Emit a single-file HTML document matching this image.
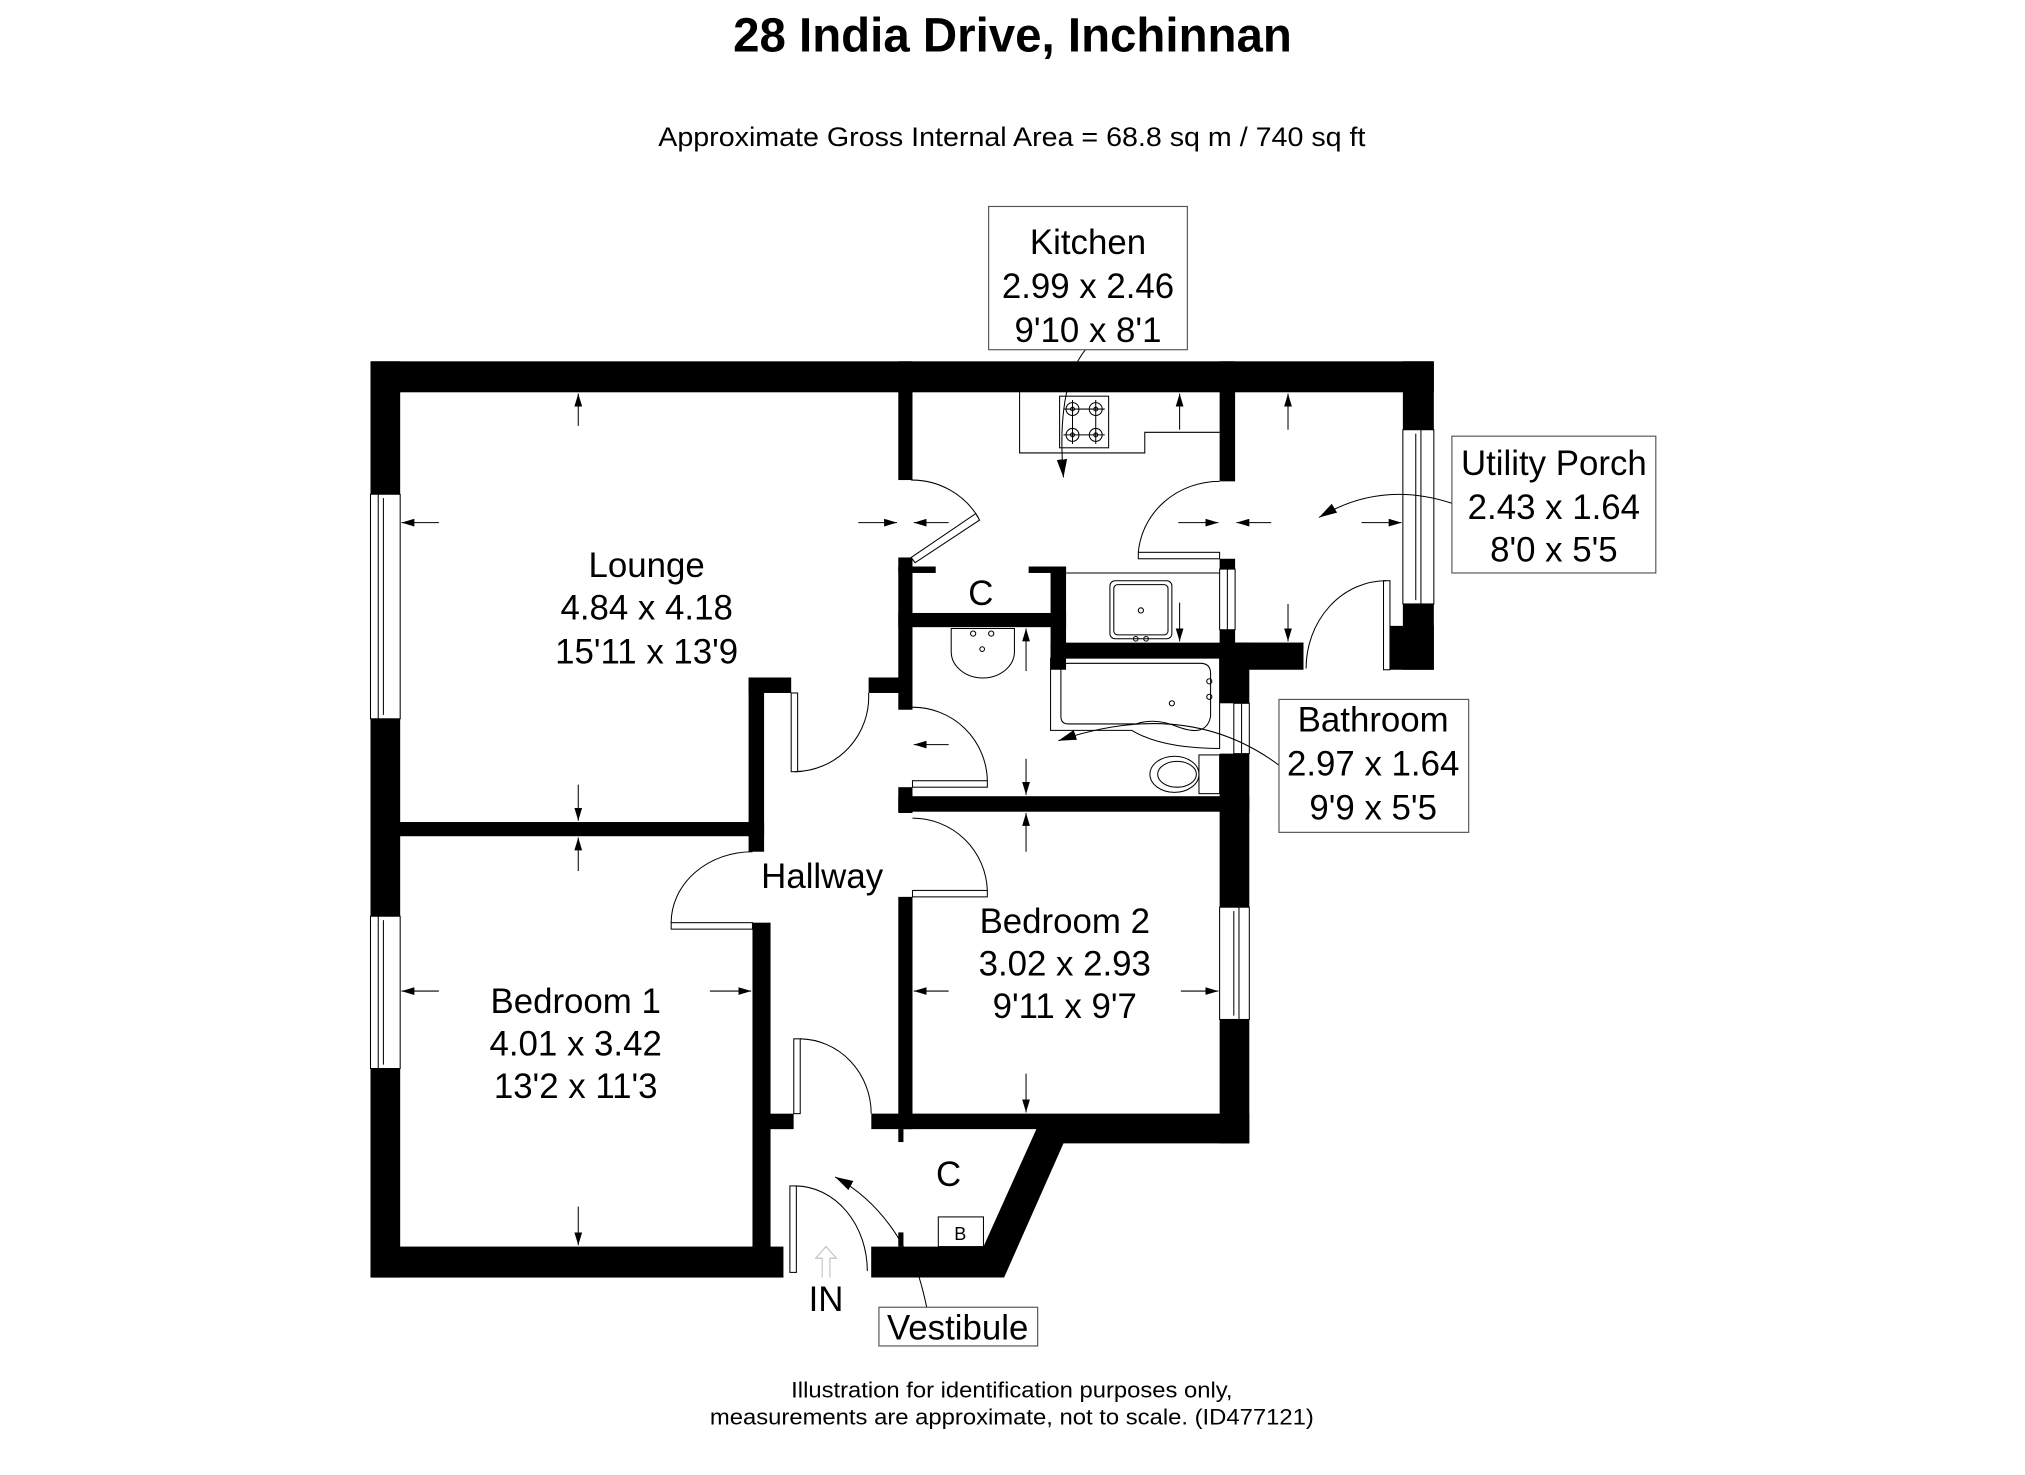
<!DOCTYPE html>
<html><head><meta charset="utf-8"><style>
html,body{margin:0;padding:0;background:#fff;}
svg{display:block;}
text{font-family:"Liberation Sans Narrow","Liberation Sans",sans-serif;fill:#000;}
</style></head><body>
<svg width="2025" height="1475" viewBox="0 0 1569 1143" xmlns="http://www.w3.org/2000/svg">
<defs>
<marker id="ah" viewBox="0 0 10 6" refX="10" refY="3" markerWidth="10" markerHeight="6" markerUnits="userSpaceOnUse" orient="auto"><path d="M0,0 L10,3 L0,6 z" fill="#000"/></marker>
<marker id="ah2" viewBox="0 0 14 8" refX="14" refY="4" markerWidth="14" markerHeight="8" markerUnits="userSpaceOnUse" orient="auto"><path d="M0,0 L14,4 L0,8 z" fill="#000"/></marker>
</defs>
<rect width="1569" height="1143" fill="#fff"/>

<text x="784.5" y="40" font-size="37" font-weight="bold" text-anchor="middle" textLength="433" lengthAdjust="spacingAndGlyphs">28 India Drive, Inchinnan</text>
<text x="784" y="113" font-size="21" text-anchor="middle" textLength="548" lengthAdjust="spacingAndGlyphs">Approximate Gross Internal Area = 68.8 sq m / 740 sq ft</text>
<text x="784" y="1083" font-size="17" text-anchor="middle" textLength="342" lengthAdjust="spacingAndGlyphs">Illustration for identification purposes only,</text>
<text x="784" y="1104" font-size="17" text-anchor="middle" textLength="468" lengthAdjust="spacingAndGlyphs">measurements are approximate, not to scale. (ID477121)</text>

<g fill="#000">
<rect x="287" y="280" width="824" height="24"/>
<rect x="287" y="280" width="23" height="710"/>
<rect x="287" y="637" width="305" height="11"/>
<rect x="580" y="525" width="12" height="135"/>
<rect x="580" y="525" width="33" height="12"/>
<rect x="583" y="715" width="14" height="252"/>
<rect x="591" y="863" width="24" height="12"/>
<rect x="673" y="525" width="33" height="12"/>
<rect x="696" y="280" width="11" height="92"/>
<rect x="696" y="432" width="11" height="118"/>
<rect x="696" y="610" width="11" height="20"/>
<rect x="696" y="439" width="29" height="5"/>
<rect x="797" y="439" width="29" height="5"/>
<rect x="814" y="439" width="12" height="80"/>
<rect x="696" y="475" width="130" height="11"/>
<rect x="945" y="280" width="12" height="93"/>
<rect x="945" y="433" width="12" height="8"/>
<rect x="945" y="488" width="12" height="12"/>
<rect x="814" y="498" width="196" height="12"/>
<rect x="945" y="498" width="65" height="21"/>
<rect x="945" y="498" width="23" height="47"/>
<rect x="945" y="584" width="23" height="120"/>
<rect x="945" y="790" width="23" height="96"/>
<rect x="1087" y="280" width="24" height="53"/>
<rect x="1087" y="468" width="24" height="51"/>
<rect x="1077" y="485" width="34" height="34"/>
<rect x="696" y="617" width="272" height="12"/>
<rect x="696" y="695" width="11" height="180"/>
<polygon points="675,863 968,863 968,886 824,886 778,990 675,990 675,966 762,966 803,875 675,875"/>
<rect x="615" y="863" width="60" height="12" fill="#fff"/>
<rect x="287" y="966" width="320" height="24"/>
<rect x="696" y="875" width="4" height="10"/>
<rect x="696" y="955" width="4" height="11"/>
</g>

<g fill="#fff" stroke="#000" stroke-width="0.8">
<rect x="287" y="383" width="23" height="174"/>
<line x1="293" y1="383" x2="293" y2="557"/><line x1="297" y1="386" x2="297" y2="554"/>
<rect x="287" y="710" width="23" height="118"/>
<line x1="293" y1="710" x2="293" y2="828"/><line x1="297" y1="713" x2="297" y2="825"/>
<rect x="945" y="703" width="23" height="87"/>
<line x1="960" y1="703" x2="960" y2="790"/><line x1="956" y1="706" x2="956" y2="787"/>
<rect x="1087" y="333" width="24" height="135"/>
<line x1="1101" y1="333" x2="1101" y2="468"/><line x1="1097" y1="336" x2="1097" y2="465"/>
<rect x="945" y="441" width="12" height="47"/>
<line x1="951" y1="441" x2="951" y2="488"/>
<rect x="956" y="545" width="12" height="39"/>
<line x1="962" y1="545" x2="962" y2="584"/>
</g>

<g fill="none" stroke="#000" stroke-width="0.8">
<path d="M706,372 A60,60 0 0 1 758,401"/>
<polygon points="706,432 756,398 759,403 709,436" fill="#fff"/>
<rect x="613" y="537" width="5" height="61" fill="#fff"/>
<path d="M616,598 A58,58 0 0 0 673,537"/>
<rect x="707" y="605" width="58" height="5" fill="#fff"/>
<path d="M707,548 A58,58 0 0 1 765,605"/>
<rect x="707" y="690" width="58" height="5" fill="#fff"/>
<path d="M707,634 A58,58 0 0 1 765,690"/>
<rect x="520" y="715" width="63" height="5" fill="#fff"/>
<path d="M520,715 A63,55 0 0 1 583,660"/>
<rect x="882" y="428" width="63" height="5" fill="#fff"/>
<path d="M882,428 A63,60 0 0 1 945,373"/>
<rect x="1072" y="450" width="5" height="69" fill="#fff"/>
<path d="M1074,450 A62,68 0 0 0 1012,518"/>
<rect x="615" y="805" width="5" height="58" fill="#fff"/>
<path d="M620,805 A56,58 0 0 1 675,863"/>
<rect x="612" y="919" width="5" height="67" fill="#fff"/>
<path d="M617,919 A56,66 0 0 1 672,985"/>
</g>

<g fill="none" stroke="#000" stroke-width="0.8">
<polyline points="790,304 790,351 887,351 887,335 945,335"/>
<rect x="821" y="307" width="38" height="40"/>
<circle cx="831" cy="317" r="5"/><circle cx="849" cy="317" r="5"/><circle cx="831" cy="337" r="5"/><circle cx="849" cy="337" r="5"/>
<circle cx="831" cy="317" r="1.5"/><circle cx="849" cy="317" r="1.5"/><circle cx="831" cy="337" r="1.5"/><circle cx="849" cy="337" r="1.5"/>
<line x1="824" y1="317" x2="856" y2="317"/><line x1="824" y1="337" x2="856" y2="337"/>
<line x1="831" y1="310" x2="831" y2="344"/><line x1="849" y1="310" x2="849" y2="344"/>
<line x1="826" y1="444" x2="945" y2="444"/>
<rect x="860" y="450" width="48" height="45" rx="4"/>
<rect x="863" y="453" width="42" height="39" rx="3"/>
<circle cx="884" cy="473" r="2"/>
<circle cx="880" cy="495" r="1.8"/><circle cx="888" cy="495" r="1.8"/>
<path d="M737,487 L786,487 L786,505 A24,20 0 0 1 737,505 Z"/>
<circle cx="754" cy="491" r="2"/><circle cx="768" cy="491" r="2"/><circle cx="761" cy="503" r="1.8"/>
<path d="M814,510 L945,510 L945,580 Q900,580 877,566 L814,566 Z"/>
<path d="M822,518 Q822,514 828,514 L930,514 Q938,514 938,522 L938,555 Q935,572 912,563 Q895,556 880,561 L828,561 Q822,561 822,555 Z"/>
<circle cx="908" cy="545" r="2"/><circle cx="937" cy="528" r="2"/><circle cx="937" cy="540" r="2"/>
<ellipse cx="910" cy="600" rx="19" ry="14"/>
<ellipse cx="912" cy="600" rx="15" ry="10"/>
<rect x="929" y="585" width="16" height="30"/>
<rect x="727" y="943" width="35" height="23"/>
</g>
<text x="744" y="961" font-size="14" text-anchor="middle">B</text>

<g stroke="#000" stroke-width="0.8" fill="none" marker-end="url(#ah)">
<line x1="448" y1="330" x2="448" y2="305"/>
<line x1="448" y1="608" x2="448" y2="636"/>
<line x1="340" y1="405" x2="311" y2="405"/>
<line x1="665" y1="405" x2="695" y2="405"/>
<line x1="735" y1="405" x2="708" y2="405"/>
<line x1="448" y1="675" x2="448" y2="649"/>
<line x1="448" y1="935" x2="448" y2="965"/>
<line x1="340" y1="768" x2="311" y2="768"/>
<line x1="550" y1="768" x2="582" y2="768"/>
<line x1="735" y1="768" x2="708" y2="768"/>
<line x1="915" y1="768" x2="944" y2="768"/>
<line x1="795" y1="660" x2="795" y2="630"/>
<line x1="795" y1="832" x2="795" y2="862"/>
<line x1="914" y1="333" x2="914" y2="305"/>
<line x1="914" y1="467" x2="914" y2="497"/>
<line x1="913" y1="405" x2="944" y2="405"/>
<line x1="985" y1="405" x2="958" y2="405"/>
<line x1="998" y1="333" x2="998" y2="305"/>
<line x1="998" y1="468" x2="998" y2="497"/>
<line x1="1055" y1="405" x2="1086" y2="405"/>
<line x1="795" y1="520" x2="795" y2="487"/>
<line x1="795" y1="588" x2="795" y2="616"/>
<line x1="735" y1="577" x2="708" y2="577"/>
</g>

<g stroke="#000" stroke-width="0.8" fill="none">
<path d="M841,271 Q818,300 824,370" marker-end="url(#ah2)"/>
<path d="M1125,390 Q1070,372 1022,401" marker-end="url(#ah2)"/>
<path d="M991,593 Q920,540 820,574" marker-end="url(#ah2)"/>
<path d="M718,1013 Q710,975 700,966"/>
<path d="M700,966 Q680,930 647,912" marker-end="url(#ah2)"/>
</g>

<path d="M637,990 L637,975 L632,975 L640,966 L648,975 L643,975 L643,990" fill="none" stroke="#bbb" stroke-width="0.8"/>

<g fill="#fff" stroke="#555" stroke-width="0.9">
<rect x="766" y="160" width="154" height="111"/>
<rect x="1125" y="338" width="158" height="106"/>
<rect x="991" y="542" width="147" height="103"/>
<rect x="681" y="1013" width="123" height="30"/>
</g>

<g font-size="27" text-anchor="middle">
<text x="843" y="197">Kitchen</text>
<text x="843" y="231">2.99 x 2.46</text>
<text x="843" y="265">9'10 x 8'1</text>
<text x="1204" y="368">Utility Porch</text>
<text x="1204" y="402">2.43 x 1.64</text>
<text x="1204" y="435">8'0 x 5'5</text>
<text x="1064" y="567">Bathroom</text>
<text x="1064" y="601">2.97 x 1.64</text>
<text x="1064" y="635">9'9 x 5'5</text>
<text x="501" y="447">Lounge</text>
<text x="501" y="480">4.84 x 4.18</text>
<text x="501" y="514">15'11 x 13'9</text>
<text x="760" y="469">C</text>
<text x="637" y="688">Hallway</text>
<text x="825" y="723">Bedroom 2</text>
<text x="825" y="756">3.02 x 2.93</text>
<text x="825" y="789">9'11 x 9'7</text>
<text x="446" y="785">Bedroom 1</text>
<text x="446" y="818">4.01 x 3.42</text>
<text x="446" y="851">13'2 x 11'3</text>
<text x="735" y="919">C</text>
<text x="640" y="1016">IN</text>
<text x="742" y="1038">Vestibule</text>
</g>
</svg>
</body></html>
